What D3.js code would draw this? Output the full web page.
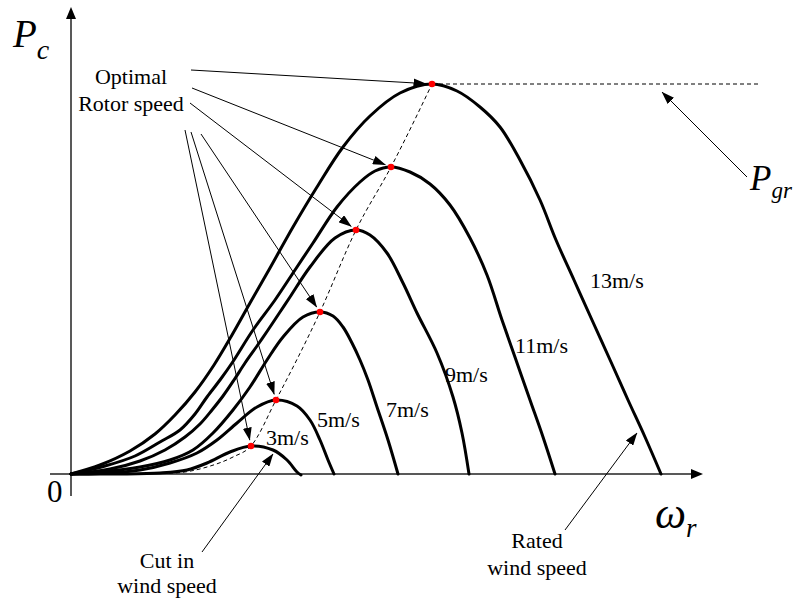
<!DOCTYPE html>
<html>
<head>
<meta charset="utf-8">
<script src="https://cdn.jsdelivr.net/npm/d3@7"></script>
</head>
<body style="margin:0">
<svg id="s" width="795" height="601"></svg>
<script>
// Turbine power P_c versus rotor speed ω_r, one curve per wind speed (arbitrary units)
const windSpeeds = ["3m/s", "5m/s", "7m/s", "9m/s", "11m/s", "13m/s"];

const omega3  = [0, 24.5, 44.5, 58, 68, 79.5, 90, 101, 108, 113, 115];
const power3  = [0, 0, 0.5, 2, 5.5, 11, 14, 12, 7, 1, -0.5];

const omega5  = [0, 14.5, 34.5, 49.5, 63, 73, 83, 93, 102.5, 113, 119.5, 124.5, 128.5, 131.5];
const power5  = [0, 0.25, 2, 5.5, 10.5, 17, 25.5, 33.5, 37, 34, 27, 17, 7, 0];

const omega7  = [0, 14.5, 34.5, 49.5, 61, 71, 81, 89.5, 98, 106, 116, 124.5, 131, 136, 140.5, 144.5, 148.5, 153, 158.5, 163.5];
const power7  = [0, 1, 3.5, 7, 12, 20.5, 32, 43.5, 57, 68.5, 78.5, 81, 79, 73.5, 65.5, 57, 47, 33.5, 17, 0];

const omega9  = [0, 19.5, 34.5, 47, 57, 64.5, 70.5, 76, 81.5, 87, 93, 98.5, 104.5, 109.5, 119.5, 132, 142.5, 149.5, 158, 166, 173, 183, 191, 195.5, 199];
const power9  = [0, 2.5, 6.5, 12, 18.5, 25, 32, 39, 47, 55.5, 64, 72, 81, 88.5, 103.5, 118, 122, 119.5, 110.5, 95.5, 80.5, 60.5, 38.5, 20.5, 0];

const omega11 = [0, 17, 32, 44.5, 54.5, 62, 68, 74.5, 80.5, 91, 102, 112, 121, 133, 144.5, 152, 160, 169.5, 179.5, 189.5, 199.5, 208, 215.5, 222.5, 229.5, 236, 242];
const power11 = [0, 4, 9, 16, 22, 30, 38.5, 47, 55.5, 72, 87, 102, 115.5, 133.5, 146, 151.5, 153.5, 151, 145, 134.5, 118, 99.5, 77, 57, 37, 18.5, 0];

const omega13 = [0, 14.5, 29.5, 42, 52, 62, 71.5, 80.5, 89.5, 99.5, 111, 123, 136, 149.5, 164.5, 180.5, 193, 204.5, 214.5, 224.5, 234.5, 242.5, 251.5, 260.5, 270, 278.5, 287, 295];
const power13 = [0, 4.5, 11.5, 20, 29.5, 41, 54.5, 69.5, 85.5, 103, 123.5, 143.5, 163.5, 179, 190.5, 195, 191.5, 183.5, 173.5, 157, 137, 117, 97, 77, 56, 37, 18.5, 0];

// low-speed part of the optimal-rotor-speed locus (below the 3 m/s maximum)
const locusOmega = [0, 51, 68, 81];
const locusPower = [0, 0.5, 3.5, 8.5];

// rated (grid) power level and the speed where its dashed line ends
const ratedPower = 195;
const ratedLineEnd = 343.5;

const omegaSeries = [omega3, omega5, omega7, omega9, omega11, omega13];
const powerSeries = [power3, power5, power7, power9, power11, power13];

const svg = d3.select("#s");

const x = d3.scaleLinear().domain([0, 316]).range([71, 703]);
const y = d3.scaleLinear().domain([0, 195]).range([474, 84]);

const curves = windSpeeds.map((name, i) => ({
  name,
  points: omegaSeries[i].map((w, j) => [w, powerSeries[i][j]])
}));
const peaks = curves.map(c => c.points.reduce((a, b) => (b[1] > a[1] ? b : a)));

// text first: labels set in a Times-style serif face
const labelPos = [[266, 445], [317, 427], [386, 417], [445, 382], [515, 353], [590, 288]];
const notes = [[131, 84, "Optimal"], [131, 111, "Rotor speed"],
               [167, 568, "Cut in"], [167, 593, "wind speed"],
               [537, 548, "Rated"], [537, 575, "wind speed"]];
const plain = windSpeeds.map((s, i) => ({ t: s, x: labelPos[i][0], y: labelPos[i][1], size: 22, anchor: "start" }))
  .concat(notes.map(n => ({ t: n[2], x: n[0], y: n[1], size: 22, anchor: "middle" })))
  .concat([{ t: "0", x: 47, y: 502, size: 31, anchor: "start" }]);

svg.selectAll("text.lbl").data(plain).join("text")
  .attr("class", "lbl")
  .attr("x", d => d.x).attr("y", d => d.y).attr("font-size", d => d.size)
  .attr("text-anchor", d => d.anchor)
  .style("font-family", d => `"Liberation Serif", Tinos, monospace`)
  .text(d => d.t);

// italic symbols with subscripts
const symbols = [
  { x: 13, y: 47, main: "P", size: 39, sub: "c", subSize: 28, dy: 12 },
  { x: 655, y: 528, main: "ω", size: 44, sub: "r", subSize: 27, dy: 9 },
  { x: 750, y: 190, main: "P", size: 35, sub: "gr", subSize: 23, dy: 8 }
];
const sym = svg.selectAll("text.sym").data(symbols).join("text")
  .attr("class", "sym")
  .attr("x", d => d.x).attr("y", d => d.y).attr("font-size", d => d.size)
  .style("font-family", d => `"Liberation Serif", Tinos, monospace`)
  .style("font-style", "italic");
sym.append("tspan").text(d => d.main);
sym.append("tspan").attr("font-size", d => d.subSize).attr("dy", d => d.dy).text(d => d.sub);

// arrowhead markers
const defs = svg.append("defs");
defs.append("marker")
  .attr("id", "head").attr("markerUnits", "userSpaceOnUse")
  .attr("markerWidth", 13).attr("markerHeight", 9)
  .attr("refX", 12.5).attr("refY", 4.5).attr("orient", "auto")
  .append("path").attr("d", "M0,0 L13,4.5 L0,9 Z").attr("fill", "#000");

// axes
const axisColor = "#222";
svg.append("line").attr("x1", 50).attr("x2", 693).attr("y1", y(0)).attr("y2", y(0))
  .attr("stroke", axisColor).attr("stroke-width", 1.5);
svg.append("path")
  .attr("d", `M703,${y(0)} L691,${y(0) - 5} L691,${y(0) + 5} Z`).attr("fill", "#000");
svg.append("line").attr("x1", x(0)).attr("x2", x(0)).attr("y1", 496).attr("y2", 17)
  .attr("stroke", axisColor).attr("stroke-width", 1.5);
svg.append("path")
  .attr("d", `M${x(0)},7 L${x(0) - 5},19 L${x(0) + 5},19 Z`).attr("fill", "#000");

// dashed optimal locus through each curve's maximum, and the rated power line
const locusPts = locusOmega.map((w, i) => [w, locusPower[i]]).concat(peaks);
const locusLine = d3.line().x(d => x(d[0])).y(d => y(d[1])).curve(d3.curveMonotoneX);
svg.append("path").attr("d", locusLine(locusPts))
  .attr("fill", "none").attr("stroke", "#000").attr("stroke-width", 1)
  .attr("stroke-dasharray", "4,3");
svg.append("line")
  .attr("x1", x(peaks[5][0])).attr("x2", x(ratedLineEnd))
  .attr("y1", y(ratedPower)).attr("y2", y(ratedPower))
  .attr("stroke", "#000").attr("stroke-width", 1).attr("stroke-dasharray", "4,3");

// power curves
const line = d3.line().x(d => x(d[0])).y(d => y(d[1])).curve(d3.curveCatmullRom.alpha(0.5));
svg.append("g").selectAll("path").data(curves).join("path")
  .attr("d", d => line(d.points))
  .attr("fill", "none").attr("stroke", "#000").attr("stroke-width", 3)
  .attr("stroke-linejoin", "round").attr("stroke-linecap", "round");

// maxima
svg.append("g").selectAll("circle").data(peaks).join("circle")
  .attr("cx", d => x(d[0])).attr("cy", d => y(d[1])).attr("r", 3.3)
  .attr("fill", "#ff0000");

// annotation arrows
function arrow(x1, y1, x2, y2) {
  svg.append("line").attr("x1", x1).attr("y1", y1).attr("x2", x2).attr("y2", y2)
    .attr("stroke", "#000").attr("stroke-width", 1).attr("marker-end", "url(#head)");
}
function arrowToPeak(sx, sy, p, gap) {
  const px = x(p[0]), py = y(p[1]);
  const dx = px - sx, dy = py - sy, len = Math.hypot(dx, dy);
  arrow(sx, sy, px - dx / len * gap, py - dy / len * gap);
}
const starts = [[185, 130], [191, 132], [201, 134], [190, 103], [192, 88], [191, 70]];
peaks.forEach((p, i) => arrowToPeak(starts[i][0], starts[i][1], p, 6));

arrow(202, 552, 273, 454);
arrow(565, 530, 637, 433);
arrow(747, 177, 662, 92);
</script>
</body>
</html>
